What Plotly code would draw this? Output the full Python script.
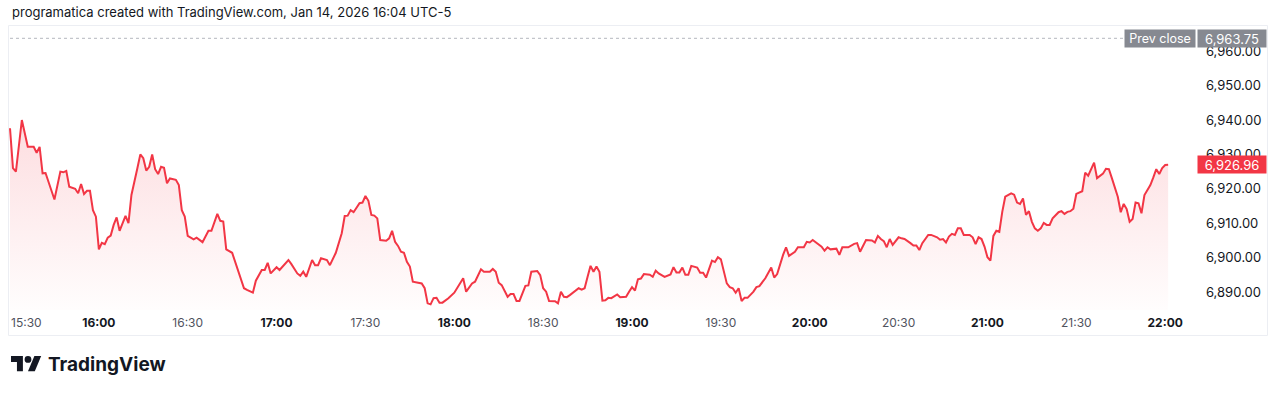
import pandas as pd
import plotly.graph_objects as go

# ---------------- data ----------------
session_start = "2026-01-14 15:30"
header_text = "programatica created with TradingView.com, Jan 14, 2026 16:04 UTC-5"
prev_close = 6963.75

# minutes after session start
minutes = [
    0, 1, 2, 4, 6, 8, 9, 10, 11, 12,
    15, 17, 18, 19, 20, 22, 23, 24, 25, 26,
    27, 28, 29, 30, 31, 32, 33, 34, 35, 36,
    37, 39, 40, 41, 43, 44, 45, 46, 47, 48,
    49, 50, 51, 52, 53, 54, 56, 57, 58, 59,
    60, 62, 63, 65, 67, 68, 70, 71, 72, 73,
    75, 77, 79, 80, 82, 83, 85, 86, 87, 88,
    90, 91, 94, 95, 97, 98, 99, 100, 102, 103,
    104, 105, 107, 108, 110, 112, 113, 114, 115, 116,
    118, 119, 120, 121, 122, 123, 124, 125, 127, 128,
    129, 130, 131, 132, 133, 134, 135, 136, 138, 139,
    140, 141, 142, 143, 144, 145, 146, 148, 150, 151,
    152, 153, 154, 156, 157, 158, 159, 160, 162, 163,
    164, 165, 166, 168, 169, 170, 171, 172, 174, 175,
    176, 178, 179, 180, 181, 182, 184, 185, 186, 187,
    188, 189, 191, 192, 193, 194, 195, 196, 197, 198,
    199, 200, 201, 202, 203, 205, 206, 208, 209, 210,
    211, 212, 213, 214, 216, 217, 218, 219, 221, 223,
    224, 225, 226, 227, 228, 229, 230, 232, 233, 234,
    235, 237, 238, 239, 240, 242, 243, 244, 245, 246,
    247, 248, 249, 251, 252, 253, 255, 256, 257, 258,
    259, 261, 262, 263, 265, 266, 268, 269, 270, 271,
    273, 274, 275, 276, 277, 279, 280, 281, 283, 285,
    286, 287, 289, 291, 292, 293, 294, 295, 296, 297,
    298, 300, 301, 302, 304, 305, 306, 307, 308, 310,
    311, 313, 314, 315, 316, 317, 318, 319, 320, 321,
    322, 324, 325, 326, 327, 328, 329, 330, 331, 332,
    333, 334, 335, 336, 338, 339, 340, 341, 342, 343,
    344, 345, 346, 347, 348, 349, 350, 351, 352, 354,
    355, 356, 357, 358, 359, 360, 362, 363, 364, 366,
    367, 369, 370, 371, 372, 374, 375, 376, 377, 378,
    379, 380, 381, 382, 383, 385, 386, 387, 388, 389,
    390, 391,
]

prices = [
    6937.6, 6926.0, 6925.0, 6940.0, 6932.2, 6932.2, 6930.5, 6932.2, 6924.5, 6924.6,
    6916.9, 6925.0, 6924.8, 6925.2, 6920.6, 6920.0, 6918.7, 6921.4, 6918.5, 6919.4,
    6919.4, 6913.8, 6911.9, 6902.4, 6904.3, 6903.9, 6905.8, 6906.4, 6909.5, 6911.7,
    6907.8, 6912.1, 6910.0, 6918.2, 6926.0, 6930.0, 6928.9, 6925.3, 6926.4, 6930.0,
    6925.7, 6924.3, 6926.4, 6926.1, 6921.6, 6923.0, 6922.6, 6921.1, 6913.8, 6911.9,
    6906.3, 6905.3, 6905.8, 6904.5, 6907.8, 6907.8, 6912.7, 6910.7, 6910.5, 6902.4,
    6901.4, 6895.9, 6891.1, 6890.6, 6889.8, 6893.3, 6896.4, 6896.4, 6898.5, 6895.4,
    6897.2, 6896.4, 6899.3, 6898.1, 6895.4, 6894.7, 6895.9, 6894.4, 6899.3, 6897.8,
    6897.8, 6899.8, 6899.3, 6897.8, 6901.4, 6907.1, 6912.1, 6912.2, 6913.8, 6913.2,
    6915.8, 6916.0, 6917.9, 6916.5, 6912.4, 6912.2, 6911.4, 6905.1, 6904.9, 6905.6,
    6907.8, 6904.6, 6903.4, 6901.7, 6901.4, 6898.8, 6897.4, 6893.0, 6892.8, 6892.5,
    6891.1, 6886.7, 6886.4, 6888.2, 6888.3, 6886.9, 6886.9, 6888.2, 6889.8, 6891.1,
    6892.5, 6894.0, 6890.1, 6892.5, 6893.0, 6894.7, 6896.6, 6895.9, 6895.9, 6896.7,
    6895.9, 6892.7, 6892.0, 6888.6, 6889.4, 6889.4, 6887.4, 6887.4, 6891.8, 6891.9,
    6895.9, 6896.1, 6894.9, 6891.1, 6890.1, 6887.4, 6887.3, 6886.7, 6890.1, 6888.6,
    6888.5, 6889.1, 6890.4, 6891.1, 6890.7, 6891.1, 6894.4, 6897.6, 6895.9, 6897.4,
    6895.9, 6887.5, 6887.6, 6888.3, 6888.2, 6889.3, 6888.5, 6888.6, 6890.1, 6891.4,
    6890.4, 6893.7, 6893.9, 6895.2, 6895.0, 6894.4, 6896.2, 6895.4, 6894.4, 6895.1,
    6897.2, 6895.7, 6895.7, 6897.1, 6895.0, 6895.0, 6897.6, 6897.1, 6895.6, 6895.6,
    6894.2, 6899.1, 6898.7, 6900.1, 6899.5, 6892.5, 6891.4, 6891.1, 6889.8, 6891.1,
    6887.4, 6888.3, 6888.3, 6890.1, 6891.4, 6891.7, 6894.0, 6895.6, 6897.1, 6894.2,
    6895.2, 6900.8, 6903.0, 6900.5, 6901.7, 6903.0, 6903.0, 6904.6, 6904.4, 6905.1,
    6903.7, 6903.2, 6902.0, 6903.0, 6902.4, 6902.6, 6900.8, 6903.0, 6903.0, 6904.0,
    6904.2, 6901.7, 6905.1, 6905.0, 6904.4, 6906.3, 6905.4, 6904.8, 6903.0, 6905.4,
    6903.7, 6905.9, 6905.6, 6905.4, 6904.2, 6903.5, 6903.5, 6902.2, 6904.2, 6906.6,
    6906.6, 6905.9, 6905.2, 6905.4, 6904.4, 6906.1, 6906.9, 6906.6, 6908.5, 6908.5,
    6906.6, 6906.6, 6905.9, 6903.9, 6905.9, 6905.4, 6903.2, 6900.1, 6899.1, 6906.3,
    6907.8, 6907.5, 6913.3, 6917.7, 6918.7, 6918.3, 6916.0, 6915.6, 6917.2, 6912.4,
    6913.5, 6910.4, 6908.5, 6907.8, 6908.5, 6910.1, 6909.5, 6909.5, 6911.4, 6913.2,
    6913.5, 6912.7, 6913.3, 6913.5, 6914.2, 6918.5, 6919.3, 6924.7, 6923.8, 6927.6,
    6923.1, 6924.4, 6925.8, 6925.7, 6923.1, 6917.7, 6913.2, 6915.6, 6914.1, 6910.4,
    6911.2, 6916.0, 6915.8, 6912.9, 6918.2, 6921.1, 6923.3, 6925.7, 6924.3, 6926.0,
    6926.9, 6926.96,
]

price_ticks = [6890, 6900, 6910, 6920, 6930, 6940, 6950, 6960]
first_time_label = "15:30"
time_tick_labels = ["16:00", "16:30", "17:00", "17:30", "18:00", "18:30", "19:00",
                    "19:30", "20:00", "20:30", "21:00", "21:30", "22:00"]

assert len(minutes) == len(prices)

# ---------------- geometry (pixels) ----------------
W, H = 1280, 394
PANE_L, PANE_R = 8, 1195          # plotting pane (x)
PANE_T, PANE_B = 26, 310          # plotting pane (y)
X_START_PX = 10                   # where the session start is drawn
PX_PER_MIN = 2.962
REF_VAL, REF_PX, PX_PER_PT = 6890, 292, 3.44

RED = "#F23645"
TEXT = "#131722"
GREY_TXT = "#50535e"
FONT = "Inter"


def px(x):
    return x / W


def py(y):
    return 1 - y / H


start = pd.Timestamp(session_start)
times = [start + pd.Timedelta(minutes=m) for m in minutes]

x_lo = start + pd.Timedelta(minutes=(PANE_L - X_START_PX) / PX_PER_MIN)
x_hi = start + pd.Timedelta(minutes=(PANE_R - X_START_PX) / PX_PER_MIN)
y_hi = REF_VAL + (REF_PX - PANE_T) / PX_PER_PT
y_lo = REF_VAL - (PANE_B - REF_PX) / PX_PER_PT

day = session_start.split(" ")[0]
tickvals = [pd.Timestamp(f"{day} {t}") for t in time_tick_labels]
ticktext = [f"<b>{t}</b>" if t.endswith(":00") else f"<span style='color:{GREY_TXT}'>{t}</span>"
            for t in time_tick_labels]

fig = go.Figure()
fig.add_trace(go.Scatter(
    x=times, y=prices, mode="lines",
    line=dict(color=RED, width=2),
    fill="tozeroy",
    fillgradient=dict(
        type="vertical",
        colorscale=[[0, "rgba(242,54,69,0.01)"], [1, "rgba(242,54,69,0.17)"]],
        start=y_lo, stop=max(prices),
    ),
    hoverinfo="skip", showlegend=False,
))

shapes = []
# pane border
shapes.append(dict(type="rect", xref="paper", yref="paper",
                   x0=px(8.5), x1=px(1267.5), y0=py(335.5), y1=py(25.5),
                   line=dict(color="#eceef3", width=1), fillcolor="rgba(0,0,0,0)", layer="below"))
# prev close dotted line
shapes.append(dict(type="line", xref="paper", yref="y",
                   x0=px(X_START_PX), x1=px(1124), y0=prev_close, y1=prev_close,
                   line=dict(color="#b4b7bf", width=1, dash="dot")))

# TradingView logo mark (built from its SVG outline, scaled)
S, OX, OY = 0.85, 11, 352.6


def lp(u, v):
    return f"{px(OX + S * u):.5f},{py(OY + S * v):.5f}"


t_part = [(14, 22), (7, 22), (7, 11), (0, 11), (0, 4), (14, 4)]
slash = [(28, 22), (20, 22), (27.5, 4), (35.5, 4)]
for poly in (t_part, slash):
    path = "M " + " L ".join(lp(u, v) for u, v in poly) + " Z"
    shapes.append(dict(type="path", xref="paper", yref="paper", path=path,
                       fillcolor=TEXT, line=dict(width=0)))
shapes.append(dict(type="circle", xref="paper", yref="paper",
                   x0=px(OX + S * 16), x1=px(OX + S * 24),
                   y0=py(OY + S * 12), y1=py(OY + S * 4),
                   fillcolor=TEXT, line=dict(width=0)))

annotations = [
    dict(text=header_text, xref="paper", yref="paper", x=px(10), y=py(12),
         xanchor="left", yanchor="middle", showarrow=False,
         font=dict(family=FONT, size=13, color=TEXT)),
    dict(text=first_time_label, xref="x", yref="paper", x=start, y=py(322),
         xanchor="left", yanchor="middle", xshift=-1, showarrow=False,
         font=dict(family=FONT, size=12, color=GREY_TXT)),
    dict(text="Prev close", xref="paper", yref="y", x=px(1124), y=prev_close,
         xanchor="left", yanchor="middle", showarrow=False, width=68, height=15,
         borderpad=1, bgcolor="#868991", font=dict(family=FONT, size=12.5, color="white")),
    dict(text=f"{prev_close:,.2f}", xref="paper", yref="y", x=px(1197), y=prev_close,
         xanchor="left", yanchor="middle", showarrow=False, width=66, height=15,
         borderpad=1, bgcolor="#868991", font=dict(family=FONT, size=13, color="white")),
    dict(text=f"{prices[-1]:,.2f}", xref="paper", yref="y", x=px(1197), y=prices[-1],
         xanchor="left", yanchor="middle", showarrow=False, width=66, height=15,
         borderpad=1, bgcolor=RED, font=dict(family=FONT, size=13, color="white")),
    dict(text="TradingView", xref="paper", yref="paper", x=px(46), y=py(364),
         xanchor="left", yanchor="middle", showarrow=False,
         font=dict(family=FONT, size=19, color=TEXT, weight=700)),
]

fig.update_layout(
    width=W, height=H,
    margin=dict(l=0, r=0, t=0, b=0),
    paper_bgcolor="white", plot_bgcolor="white",
    showlegend=False, hovermode=False,
    shapes=shapes, annotations=annotations,
    xaxis=dict(
        domain=[px(PANE_L), px(PANE_R)], range=[x_lo, x_hi], type="date",
        tickvals=tickvals, ticktext=ticktext, showgrid=False, zeroline=False,
        showline=False, ticks="", ticklabelstandoff=4,
        tickfont=dict(family=FONT, size=12, color=TEXT), fixedrange=True,
    ),
    yaxis=dict(
        domain=[py(PANE_B), py(PANE_T)], range=[y_lo, y_hi], side="right",
        tickvals=price_ticks, tickformat=",.2f", showgrid=False, zeroline=False,
        showline=False, ticks="", ticklabelstandoff=10,
        tickfont=dict(family=FONT, size=13, color=TEXT), fixedrange=True,
    ),
)

fig.write_html("out.html")
